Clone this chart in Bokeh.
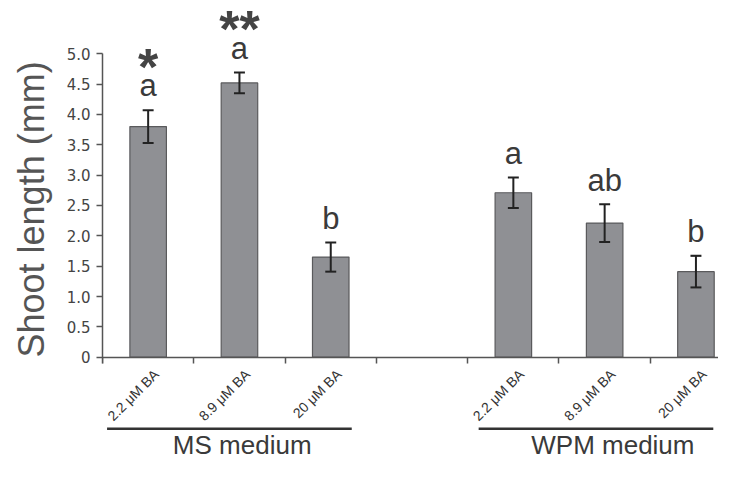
import math
from bokeh.plotting import figure
from bokeh.models import Range1d, FixedTicker, LinearAxis, ColumnDataSource, NumeralTickFormatter, Title
from bokeh.core.properties import value
from bokeh.embed import file_html
from bokeh.resources import INLINE

# ---- data ----
treatments = ["2.2 μM BA", "8.9 μM BA", "20 μM BA", "2.2 μM BA", "8.9 μM BA", "20 μM BA"]
slots = [0, 1, 2, 4, 5, 6]          # slot 3 is the gap between media
means = [3.80, 4.52, 1.65, 2.71, 2.21, 1.41]
errors = [0.27, 0.17, 0.24, 0.25, 0.31, 0.26]
letters = ["a", "a", "b", "a", "ab", "b"]
stars = ["*", "**", "", "", "", ""]
groups = ["MS medium", "WPM medium"]
group_slots = [(0, 2), (4, 6)]
y_ticks = [0, 0.5, 1.0, 1.5, 2.0, 2.5, 3.0, 3.5, 4.0, 4.5, 5.0]

FONT = "Liberation Sans"
x = [s + 0.5 for s in slots]
src = ColumnDataSource(dict(
    x=x, top=means,
    lo=[m - e for m, e in zip(means, errors)],
    hi=[m + e for m, e in zip(means, errors)],
    cl=[v - 0.06 for v in x], cr=[v + 0.06 for v in x],
    ly=[m + e + 0.40 for m, e in zip(means, errors)],
    sy=[m + e + 0.72 for m, e in zip(means, errors)],
    letter=letters, star=stars,
    tx=[v + 0.09 for v in x], ty=[-0.24] * len(x), tlab=treatments,
))

p = figure(width=718, height=462, x_range=Range1d(0, 6.747), y_range=Range1d(-1.735, 5.878),
           output_backend="svg", toolbar_location=None, x_axis_location=None, y_axis_location=None,
           min_border_left=100, min_border_right=0, min_border_top=0, min_border_bottom=0)
p.outline_line_color = None
p.grid.visible = False
p.background_fill_color = "white"

# y axis
ya = LinearAxis(ticker=FixedTicker(ticks=y_ticks), bounds=(-0.1, 5.0),
                formatter=NumeralTickFormatter(format="0.0"))
ya.major_label_overrides = {0: "0"}
ya.axis_line_color = "#555555"
ya.axis_line_width = 1.5
ya.major_tick_line_color = "#555555"
ya.major_tick_line_width = 1.5
ya.major_tick_out = 6
ya.major_tick_in = 0
ya.minor_tick_line_color = None
ya.major_label_text_font = "DejaVu Sans"
ya.major_label_text_font_size = "15px"
ya.major_label_text_color = "#444444"
ya.major_label_standoff = 6
p.add_layout(ya, "left")

# y axis title
p.add_layout(Title(text="Shoot length (mm)", align="left", offset=105, text_font=FONT,
                   text_font_size="36px", text_font_style="normal", text_color="#555555",
                   vertical_align="top", standoff=20), "left")

# x axis at y = 0 (ticks between bars, labels drawn separately)
xa = LinearAxis(ticker=FixedTicker(ticks=[0, 1, 2, 3, 4, 5, 6]), bounds=(-0.08, 6.747), fixed_location=0)
xa.axis_line_color = "#555555"
xa.axis_line_width = 1.5
xa.major_tick_line_color = "#555555"
xa.major_tick_line_width = 1.5
xa.major_tick_out = 6
xa.major_tick_in = 0
xa.minor_tick_line_color = None
xa.major_label_text_color = None
xa.major_label_text_font_size = "1px"
xa.major_label_standoff = 0
p.add_layout(xa, "below")

# bars
p.vbar(x="x", top="top", bottom=0, width=0.40, source=src,
       fill_color="#8f9094", line_color="#5a5a5c", line_width=1.2)
# error bars
p.segment(x0="x", y0="lo", x1="x", y1="hi", source=src, line_color="#222222", line_width=2)
p.segment(x0="cl", y0="hi", x1="cr", y1="hi", source=src, line_color="#222222", line_width=2)
p.segment(x0="cl", y0="lo", x1="cr", y1="lo", source=src, line_color="#222222", line_width=2)

# significance letters and stars
p.text(x="x", y="ly", text="letter", source=src, text_align="center", text_baseline="alphabetic",
       text_font=value(FONT), text_font_size="31px", text_color="#3a3a3a")
p.text(x="x", y="sy", text="star", source=src, text_align="center", text_baseline="middle",
       text_font=value(FONT), text_font_size="52px", text_font_style="bold", text_color="#444444")

# treatment labels (rotated)
p.text(x="tx", y="ty", text="tlab", source=src, angle=math.pi / 4, text_align="right",
       text_baseline="middle", text_font=value(FONT), text_font_size="14px",
       text_color="#333333")

# group lines and labels
for name, (a, b) in zip(groups, group_slots):
    x0 = a + 0.05 if a == 0 else a + 0.12
    x1 = b + 0.73 if a == 0 else b + 0.69
    p.segment(x0=[x0], y0=[-1.18], x1=[x1], y1=[-1.18], line_color="#333333", line_width=2.5)
    cx = a + 1.53 if a == 0 else a + 1.59
    p.text(x=[cx], y=[-1.45], text=[name], text_align="center", text_baseline="alphabetic",
           text_font=value(FONT), text_font_size="26px", text_color="#3a3a3a")

open("out.html", "w").write(file_html(p, INLINE))
